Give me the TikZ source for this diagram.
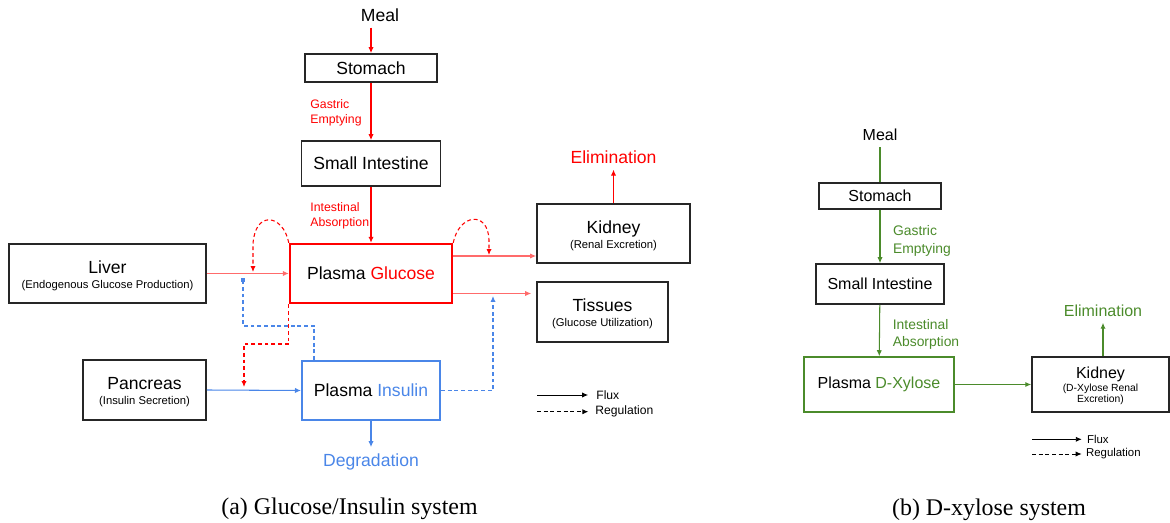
\documentclass[tikz,border=0pt]{standalone}
\usepackage{fontspec}
\setmainfont{Liberation Sans}
\newfontfamily\capfont{Liberation Serif}
\usepackage{xcolor}
\usepackage{tikz}
\usetikzlibrary{arrows.meta}

\definecolor{gred}{HTML}{FF0000}
\definecolor{lred}{HTML}{FF6B6B}
\definecolor{iblue}{HTML}{4A86E8}
\definecolor{xgreen}{HTML}{4B8B2B}
\definecolor{boxgray}{HTML}{262626}

\newcommand\bigfs{\fontsize{10}{11}\selectfont}
\newcommand\subfs{\fontsize{6.4}{7}\selectfont}
\newcommand\labfs{\fontsize{7}{8.5}\selectfont}
\newcommand\legfs{\fontsize{6.9}{8}\selectfont}
\newcommand\rbigfs{\fontsize{9.1}{10}\selectfont}
\newcommand\rsubfs{\fontsize{5.9}{6.4}\selectfont}
\newcommand\rlabfs{\fontsize{7.9}{10}\selectfont}
\newcommand\rlegfs{\fontsize{6.5}{7.5}\selectfont}
\newcommand\organ[2]{\raisebox{-2pt}[\height][\depth]{\begin{tabular}{@{}c@{}}#1\\[-2.5pt]\subfs #2\end{tabular}}}

\tikzset{
	box/.style={draw=boxgray, line width=1pt, align=center, inner sep=0pt, font=\bigfs},
	rbox/.style={box, line width=0.9pt, font=\rbigfs},
	flux/.style={-{Latex[length=3.4pt,width=3pt]}, line width=0.6pt},
	reg/.style={flux, dash pattern=on 2.2pt off 1.6pt},
	lab/.style={anchor=west, align=left, inner sep=0pt, font=\labfs},
	rlab/.style={lab, font=\rlabfs},
}

\begin{document}
\begin{tikzpicture}[x=0.02cm, y=-0.02cm]
				\useasboundingbox (0,0) rectangle (1170,523);

				\node[font=\bigfs] (meal) at (380,15) {Meal};
				\node[box, minimum width=2.64cm, minimum height=0.56cm] (stomach) at (371,68) {Stomach};
				\node[box, minimum width=2.78cm, minimum height=0.9cm] (smallint) at (371,163.5) {Small Intestine};
				\node[box, draw=gred, line width=1.4pt, minimum width=3.24cm, minimum height=1.18cm] (glucose) at (371,273.5) {Plasma \textcolor{gred}{Glucose}};
				\node[box, minimum width=3.94cm, minimum height=1.18cm] (liver) at (107.5,273.5) {\organ{Liver}{(Endogenous Glucose Production)}};
				\node[box, minimum width=2.46cm, minimum height=1.2cm] (pancreas) at (144.5,390) {\organ{Pancreas}{(Insulin Secretion)}};
				\node[box, draw=iblue, line width=1.2pt, minimum width=2.76cm, minimum height=1.18cm] (insulin) at (371,390.5) {Plasma \textcolor{iblue}{Insulin}};
				\node[box, minimum width=3.06cm, minimum height=1.18cm] (kidney) at (613.5,233.5) {\organ{Kidney}{(Renal Excretion)}};
				\node[box, minimum width=2.62cm, minimum height=1.2cm] (tissues) at (602.5,312) {\organ{Tissues}{(Glucose Utilization)}};
				\node[font=\bigfs, text=gred] (elim) at (613.5,157) {Elimination};
				\node[font=\bigfs, text=iblue] (degr) at (371,461.5) {Degradation};

				\node[lab, text=gred] (gastric) at (310,113) {Gastric\\Emptying};
				\node[lab, text=gred] (absorb) at (310,216) {Intestinal\\Absorption};

				\draw[flux, gred] (meal.south -| stomach.north) -- (stomach.north);
				\draw[flux, gred] (stomach) -- (smallint);
				\draw[flux, gred] (smallint) -- (glucose);
				\draw[flux, gred] (kidney.north) -- (elim.south);
				\draw[flux, lred] (liver.east) -- (glucose.west);
				\draw[flux, lred] (glucose.east |- 0,256) -- (kidney.west |- 0,256);
				\draw[flux, lred, shorten >=2.8pt] (glucose.east |- 0,293.5) -- (tissues.west |- 0,293.5);
				\draw[flux, iblue] (pancreas.east) -- (insulin.west);
				\draw[flux, iblue] (insulin.south) -- (degr.north);

				\draw[reg, gred] (glucose.north west) .. controls (283,214) and (255,210) .. (253,244) -- (253,272);
				\draw[reg, gred] (glucose.north east) .. controls (459,214) and (488,210) .. (489,240) -- (489,255);
				\draw[reg, gred] (glucose.south west) |- (244,344) -- (244,387);
				\draw[reg, iblue, -{Square[length=2.2pt,width=2.2pt]}] (insulin.north -| 314,0) |- (243,326) -- (243,278);
				\draw[reg, iblue] (insulin.east) -| (493,296);

				\coordinate (fluxa) at (537,395);
				\coordinate (rega) at (537,411.7);
				\node[anchor=west, font=\legfs, inner sep=0pt] (fluxt) at (596,395) {Flux};
				\node[anchor=west, font=\legfs, inner sep=0pt] (regt) at (595,411.7) {Regulation};
				\draw[flux, line width=0.5pt, shorten >=4.5pt] (fluxa) -- (fluxt.west);
				\draw[reg, line width=0.5pt, shorten >=3.8pt] (rega) -- (regt.west);

				\node[font=\rbigfs] (meal2) at (880,135) {Meal};
				\node[rbox, minimum width=2.44cm, minimum height=0.52cm] (stomach2) at (880,196) {Stomach};
				\node[rbox, minimum width=2.56cm, minimum height=0.8cm] (smallint2) at (880,284) {Small Intestine};
				\node[rbox, draw=xgreen, minimum width=3cm, minimum height=1.1cm] (xylose) at (879,384.5) {Plasma \textcolor{xgreen}{D-Xylose}};
				\node[rbox, minimum width=2.74cm, minimum height=1.1cm] (kidney2) at (1100.5,384.5) {\raisebox{-1.5pt}[\height][\depth]{\begin{tabular}{@{}c@{}}Kidney\\[-2.5pt]\rsubfs (D-Xylose Renal\\[-4pt]\rsubfs Excretion)\end{tabular}}};
				\node[font=\rbigfs, text=xgreen] (elim2) at (1103,310.7) {Elimination};

				\node[rlab, text=xgreen] (gastric2) at (892.7,241) {Gastric\\Emptying};
				\node[rlab, text=xgreen] (absorb2) at (892.5,334.5) {Intestinal\\Absorption};

				\draw[xgreen, line width=0.6pt] (meal2.south) -- (stomach2.north);
				\draw[flux, xgreen] (stomach2) -- (smallint2);
				\draw[flux, xgreen] (smallint2) -- (xylose);
				\draw[flux, xgreen] (xylose.east) -- (kidney2.west);
				\draw[flux, xgreen] (kidney2.north -| 1103,0) -- (elim2.south);

				\coordinate (fluxb) at (1032,439.3);
				\coordinate (regb) at (1032,454);
				\node[anchor=west, font=\rlegfs, inner sep=0pt] (fluxt2) at (1086.7,439.3) {Flux};
				\node[anchor=west, font=\rlegfs, inner sep=0pt] (regt2) at (1085.7,454) {Regulation};
				\draw[flux, line width=0.5pt, shorten >=2.8pt] (fluxb) -- (fluxt2.west);
				\draw[reg, line width=0.5pt, shorten >=2.3pt] (regb) -- (regt2.west);

				\node[font=\capfont\fontsize{13.6}{15}\selectfont] (capa) at (349.5,509) {(a) Glucose/Insulin system};
				\node[font=\capfont\fontsize{13.6}{15}\selectfont] (capb) at (989,510) {(b) D-xylose system};
\end{tikzpicture}
\end{document}
